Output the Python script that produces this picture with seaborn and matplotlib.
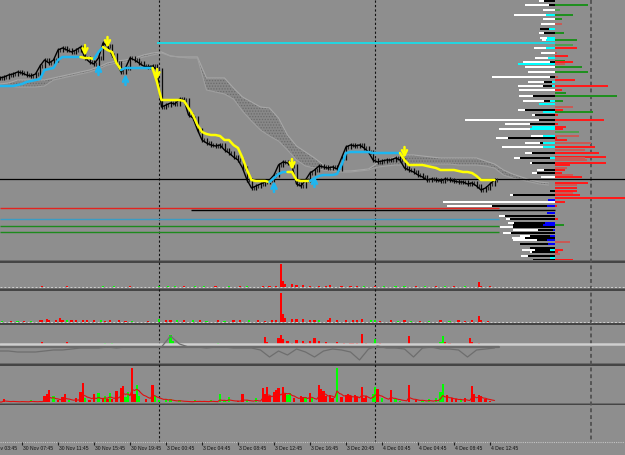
import numpy as np
import pandas as pd
import matplotlib
matplotlib.use("Agg")
import matplotlib.pyplot as plt
import seaborn as sns
from matplotlib import font_manager

sns.set_theme(style="white")
_names = {f.name for f in font_manager.fontManager.ttflist}
_narrow = "Liberation Sans Narrow" in _names
_fams = [f for f in ["Liberation Sans Narrow", "Liberation Sans"] if f in _names]
plt.rcParams["font.family"] = _fams + ["DejaVu Sans"]
plt.rcParams["hatch.linewidth"] = 0.6

# ------------------------------------------------------------------ data
time_labels = ["30 Nov 03:45", "30 Nov 07:45", "30 Nov 11:45", "30 Nov 15:45", "30 Nov 19:45",
               "3 Dec 00:45", "3 Dec 04:45", "3 Dec 08:45", "3 Dec 12:45", "3 Dec 16:45",
               "3 Dec 20:45", "4 Dec 00:45", "4 Dec 04:45", "4 Dec 08:45", "4 Dec 12:45"]
label_bar = [0, 16, 32, 48, 64, 80, 96, 112, 128, 144, 160, 176, 192, 208, 224]
day_break_bar = [77, 173, 269]

price_first_bar = 6
price_step = 2
# price (screen depth units, larger = lower price), every 2nd 15-min bar
close = [78, 77, 75, 74, 72, 73, 75, 76, 74, 66,
         60, 63, 60, 50, 48, 50, 52, 50, 47, 58,
         62, 64, 58, 43, 46, 55, 63, 72, 68, 58,
         60, 63, 66, 67, 66, 70, 107, 105, 103, 104,
         99, 100, 115, 118, 130, 140, 143, 145, 146, 145,
         150, 153, 157, 160, 168, 180, 188, 186, 184, 182,
         180, 175, 165, 162, 163, 166, 184, 186, 180, 173,
         170, 166, 167, 168, 167, 169, 158, 147, 145, 146,
         145, 148, 152, 160, 162, 161, 160, 160, 158, 160,
         168, 170, 172, 175, 177, 180, 179, 180, 181, 179,
         180, 181, 182, 182, 184, 183, 186, 190, 188, 184,
         180]
trend = [86, 86, 86, 86, 85, 84, 82, 81, 80, 79,
         70, 69, 68, 60, 57, 57, 57, 57, 57, 58,
         58, 59, 52, 47, 50, 52, 63, 70, 68, 68,
         68, 68, 68, 68, 68, 82, 100, 100, 100, 100,
         100, 101, 108, 115, 125, 132, 134, 135, 135, 136,
         140, 140, 145, 148, 158, 170, 180, 181, 181, 181,
         182, 178, 174, 172, 172, 172, 180, 181, 181, 181,
         178, 176, 175, 175, 175, 174, 165, 153, 152, 152,
         152, 152, 152, 153, 153, 153, 153, 153, 153, 153,
         160, 165, 165, 165, 165, 166, 167, 168, 170, 170,
         170, 170, 171, 172, 172, 173, 176, 180, 180, 180,
         180]
trend_dir = list("UUUUUUUUUUUUUUUUUUU" "DDD" "UU" "DDDD" "UUUUUUU"
                 "DDDDDDDDDDDDDDDDDDDDDDDDDD" "UUUU" "DDDDD"
                 "UUUUUUUUUUUUUUUUUUUU" "DDDDDDDDDDDDDDDDDDDDD")

cloud_first_bar = 6
cloud_step = 4
span_a = [84, 83, 80, 80, 80, 80, 78, 76, 74, 72,
          70, 67, 63, 61, 60, 58, 55, 53, 52, 56,
          57, 57, 57, 78, 78, 78, 88, 97, 102, 107,
          108, 118, 135, 146, 152, 158, 165, 169, 171, 171,
          170, 169, 163, 160, 157, 155, 155, 156, 157, 158,
          158, 158, 158, 158, 161, 164, 170, 174, 177, 180,
          182, 183]
span_b = [86, 86, 87, 87, 87, 86, 80, 78, 76, 74,
          72, 69, 65, 63, 62, 60, 57, 55, 53, 56,
          57, 58, 58, 90, 92, 94, 99, 111, 121, 130,
          136, 141, 150, 160, 166, 168, 170, 171, 172, 172,
          171, 170, 167, 166, 165, 165, 164, 164, 164, 164,
          164, 165, 165, 165, 166, 168, 175, 178, 180, 182,
          184, 185]

level_price = [43, 179, 208, 210, 219, 226, 232]
level_from_bar = [76, 0, 6, 91, 6, 6, 6]
level_to_bar = [253, 300, 228, 253, 228, 228, 228]
level_color = ["#22d6e2", "#000000", "#e3241f", "#000000", "#3a9cc4", "#1d8a1d", "#1d8a1d"]
level_width = [1.4, 0.9, 1.0, 1.0, 1.0, 1.0, 1.0]

# volume profile rows: price, white, black, accent parts (left), right part
prof_y = [1, 5, 10, 15, 19, 24, 29, 33, 38, 40, 45, 48, 53, 56, 58, 61, 62, 64, 67, 72,
          77, 80, 82, 86, 90, 93, 96, 101, 104, 107, 110, 112, 115, 120, 124, 127, 129, 132, 136, 138,
          140, 143, 147, 150, 153, 157, 158, 160, 163, 165, 168, 170, 173, 175, 177, 183, 185, 188, 191, 193,
          195, 198, 200, 202, 206, 213, 216, 219, 223, 225, 227, 230, 233, 236, 238, 240, 242, 244, 248, 250,
          252, 254, 256, 258, 260]
prof_w = [5, 24, 12, 32, 12, 14, 0, 5, 7, 4, 0, 12, 14, 0, 13, 0, 27, 0, 30, 27,
          58, 0, 16, 25, 36, 0, 14, 21, 0, 0, 7, 0, 3, 74, 25, 0, 31, 0, 12, 12,
          0, 15, 41, 0, 7, 0, 6, 0, 2, 0, 0, 7, 5, 0, 14, 0, 0, 0, 0, 0,
          3, 0, 0, 112, 45, 0, 6, 4, 6, 0, 13, 25, 8, 10, 13, 24, 0, 0, 0, 13,
          2, 0, 7, 0, 0]
prof_k = [11, 6, 0, 0, 0, 0, 9, 11, 0, 0, 0, 0, 0, 0, 0, 0, 5, 0, 0, 0,
          5, 0, 8, 9, 0, 0, 22, 6, 0, 0, 30, 0, 20, 16, 25, 0, 0, 0, 0, 47,
          0, 3, 0, 0, 23, 0, 30, 0, 23, 0, 0, 11, 18, 0, 0, 0, 0, 0, 5, 0,
          42, 0, 0, 0, 55, 0, 50, 45, 31, 30, 42, 15, 44, 20, 30, 10, 0, 28, 25, 15,
          23, 0, 27, 0, 22]
prof_a = [0, 0, 0, 9, 0, 0, 6, 0, 8, 9, 0, 9, 0, 0, 7, 0, 0, 37, 0, 0,
          0, 0, 3, 3, 0, 0, 0, 5, 16, 0, 0, 12, 0, 0, 0, 23, 25, 0, 12, 0,
          0, 12, 12, 0, 0, 0, 5, 0, 0, 0, 0, 0, 0, 0, 0, 0, 0, 0, 0, 0,
          0, 0, 7, 0, 8, 8, 0, 0, 10, 12, 0, 2, 0, 5, 0, 8, 0, 7, 0, 5,
          0, 0, 0, 5, 0]
prof_ac = list("cccccccccccccccccccc" "cccccccccccccccccccc" "cccccccccccccccccccc"
               "ccbcbbccbbcbcbcbcbcc" "ccccb")
prof_r = [0, 33, 5, 18, 7, 7, 0, 9, 0, 22, 18, 22, 2, 13, 0, 10, 18, 10, 27, 33,
          3, 20, 0, 53, 7, 11, 62, 8, 0, 18, 8, 38, 3, 49, 3, 11, 8, 24, 24, 2,
          12, 36, 40, 30, 44, 51, 30, 32, 51, 15, 12, 10, 7, 18, 27, 33, 22, 22, 22, 18,
          25, 70, 0, 10, 2, 0, 0, 3, 0, 9, 0, 0, 0, 0, 0, 0, 15, 0, 0, 8,
          3, 5, 0, 0, 18]
prof_rc = list("GGgGGrGGGGgRrRGGRrGG" "rRGRRGGGGrRGRRRRRgrR" "RrRrRRrrRRrRRrRRrRRr"
               "RRRRRRRRRGRRRRRRrRRR" "RrRRR")

# lower panel 1 (small histogram)
p1_bar = [25, 36, 52, 57, 64, 77, 81, 84, 88, 93, 97, 102, 108, 113, 116, 123, 126, 129, 131, 132,
          133, 136, 138, 141, 144, 148, 151, 153, 158, 162, 165, 168, 173, 177, 182, 186, 191, 195, 200, 204,
          208, 213, 219, 220, 224]
p1_val = [1, 1, 1.5, 1, 1, 1.5, 1, 1, 1, 1, 1, 1, 1, 1, 1, 1, 1, 1.5, 23, 6,
          3, 3, 2, 2, 1.5, 1, 1.5, 2, 1, 1, 1.5, 1, 1.5, 1, 1, 1, 1, 1, 1, 1,
          1, 1, 5, 1.5, 1]
p1_col = list("rrggrgggrggrgrgrrrrrrrrrrrrrrrrgrgggrgrgrgrrr")

# lower panel 2
p2_bar = [7, 11, 14, 17, 20, 24, 25, 27, 28, 31, 33, 34, 36, 38, 40, 43, 45, 48, 51, 53,
          55, 59, 62, 65, 72, 77, 80, 82, 85, 88, 92, 95, 98, 103, 106, 110, 113, 117, 121, 124,
          127, 129, 131, 132, 133, 136, 138, 141, 144, 146, 148, 152, 153, 156, 160, 163, 165, 167, 171, 173,
          175, 180, 183, 186, 189, 193, 197, 202, 206, 210, 213, 216, 219, 220, 223]
p2_val = [1, 1, 1, 1, 1, 1.5, 2, 3, 2, 2, 4, 2, 2, 2, 1.5, 2, 1.5, 2, 2, 1,
          2, 1.5, 1, 1, 1, 3, 1.5, 2, 1.5, 2, 1.5, 2, 1, 2, 1, 1.5, 2, 1.5, 1.5, 1,
          1.5, 2, 29, 8, 4, 3, 3, 3, 2, 2, 2, 2, 4, 2, 1.5, 2, 2, 3, 1.5, 2,
          1, 1.5, 1, 1.5, 1, 1, 1, 1.5, 1, 1.5, 1, 1.5, 6, 2, 1]
p2_col = list("grgrg" "rrrrr" "rrgrr" "rrrgr" "rrrgr" "grrgr" "grgrg" "rrgrr"
              "rrrrr" "rrrrr" "grrrr" "rrrgg" "rrgrg" "rgrgr" "rrrrr")

# lower panel 3 (oscillator + histogram)
p3_bar = [25, 36, 51, 53, 56, 59, 66, 77, 82, 83, 85, 95, 103, 108, 112, 114, 124, 125, 130, 131,
          132, 134, 136, 138, 141, 142, 144, 146, 148, 151, 153, 156, 159, 162, 163, 165, 167, 169, 172, 173,
          175, 182, 188, 196, 202, 203, 204, 206, 208, 215, 216, 219, 220]
p3_val = [3, 3, 1.5, 2, 2, 1, 1, 1, 10, 4, 1, 1.5, 2, 1.5, 1, 1, 8, 3, 7, 10,
          6, 4, 2, 5, 4, 2, 4, 7, 4, 3, 1.5, 3, 2, 2, 2, 2, 11, 2, 2, 6,
          2, 1, 9, 1, 3, 9, 3, 2, 1.5, 7, 3, 2, 1.5]
p3_col = list("rrggg" "rgggg" "rggrg" "rrrrr" "rrrrr" "rrrrr" "grrrr" "rrrgg" "rgrgg" "grrrr" "rrr")
osc_first_bar = 6
osc_step = 4
osc = [-6, -6, -7, -7, -7, -6, -5, -5, -4, -3,
       -3, -3, -2, -3, -2, -2, -2, -2, -2, 9,
       1, -2, -2, -3, -2, -2, -3, -3, -3, -5,
       -12, -6, -10, -4, -7, -12, -6, -4, -5, -7,
       -15, -4, -1, -3, -3, -4, -12, -3, -2, -4,
       -4, -5, -12, -5, -4, -3]

# lower panel 4 (volume histogram)
p4_bar = [8, 12, 16, 20, 24, 26, 27, 28, 30, 32, 34, 35, 37, 40, 42, 43, 44, 46, 48, 50,
          52, 53, 54, 55, 56, 58, 60, 61, 62, 63, 65, 66, 67, 68, 71, 74, 75, 77, 80, 82,
          86, 93, 95, 97, 100, 104, 106, 108, 112, 114, 116, 120, 123, 124, 125, 126, 128, 129, 130, 132,
          133, 134, 135, 137, 140, 141, 142, 144, 145, 148, 149, 150, 151, 153, 154, 156, 158, 160, 161, 162,
          164, 165, 167, 168, 169, 172, 173, 174, 176, 180, 182, 184, 188, 191, 194, 197, 200, 202, 203, 205,
          207, 209, 211, 213, 216, 217, 219, 220, 222, 224]
p4_val = [3, 1, 1, 2, 1, 6, 8, 12, 6, 2, 5, 8, 2, 4, 10, 19, 4, 2, 8, 9,
          3, 6, 3, 9, 3, 11, 14, 16, 5, 10, 34, 8, 17, 6, 3, 17, 6, 2, 3, 3,
          2, 2, 1, 1, 2, 8, 2, 5, 1, 8, 2, 4, 14, 8, 15, 6, 10, 12, 14, 15,
          8, 7, 9, 4, 6, 5, 5, 9, 4, 17, 13, 11, 6, 7, 4, 34, 5, 7, 8, 6,
          7, 5, 15, 4, 6, 8, 15, 13, 4, 12, 3, 1, 17, 2, 2, 3, 4, 10, 18, 7,
          4, 3, 3, 4, 16, 8, 7, 6, 3, 1]
p4_col = list("rrggr" "rrrgr" "rrgrr" "rgrrg" "rgrgr" "rrrgg" "rrggr" "rgggg" "gggrg" "gggrr" "ggrrr"
              "rrrrr" "rggrr" "rgrgr" "rrrrr" "grrrr" "rrrrr" "ggrgr" "ggrrg" "ggggr" "rrgrr" "rrrrr")

# ------------------------------------------------------------------ layout
W, H = 625, 455
BG = "#8e8e8e"
BAR_PX = 2.25
ORIGIN_PX = -14.0
XL = (0 - ORIGIN_PX) / BAR_PX
XR = (W - ORIGIN_PX) / BAR_PX
RED, LIME = "#ff0000", "#00ff00"
cmap2 = {"r": RED, "g": LIME}
LABEL_SIZE = 4.3 if _narrow else 3.6

fig = plt.figure(figsize=(W / 100, H / 100), dpi=100, facecolor=BG)

bg = fig.add_axes([0, 0, 1, 1], zorder=0)
bg.set_xlim(XL, XR)
bg.set_ylim(H, 0)
bg.set_axis_off()


def add_axes(y0, y1, z=2):
    ax = fig.add_axes([0, 1 - y1 / H, 1, (y1 - y0) / H], zorder=z)
    ax.set_axis_off()
    ax.set_xlim(XL, XR)
    return ax


def panel(y0, y1, base):
    ax = add_axes(y0, y1)
    ax.set_ylim(-(y1 - base), base - y0)
    return ax


# separators
for (a, b) in [(259.8, 262.5), (288.3, 290.7), (322.5, 324.5), (363.3, 365.5), (402.8, 405.0)]:
    bg.axhspan(a, a + 0.9, color="#6a6a6a", lw=0)
    bg.axhspan(a + 0.9, b, color="#454545", lw=0)

# day separators
for i, b in enumerate(day_break_bar):
    if i < 2:
        bg.plot([b, b], [0, 441], color="#111111", lw=0.8, ls=(0, (2, 2)))
    else:
        bg.plot([b, b], [0, 441], color="#555555", lw=1.4, ls=(0, (2, 1.5)))

# time axis
bg.plot([XL, XR], [441.5, 441.5], color="#c4c4c4", lw=0.8, ls=(0, (1, 1)))
bg.vlines(label_bar, 441.5, 444.5, color="#202020", lw=0.8)
for b, t in zip(label_bar, time_labels):
    bg.text(b + 0.5, 448.5, t, fontsize=LABEL_SIZE, ha="left", va="center", color="#101010")

# ------------------------------------------------------------------ main chart
ax = add_axes(0, 259.8)
ax.set_ylim(259.8, 0)

pbar = price_first_bar + price_step * np.arange(len(close))
cbar = cloud_first_bar + cloud_step * np.arange(len(span_a))

ax.fill_between(cbar, span_a, span_b, facecolor="#888888", edgecolor="#6b6b6b",
                hatch="......", lw=0, zorder=1)
sns.lineplot(x=cbar, y=span_a, ax=ax, color="#a8a8a8", lw=0.8, zorder=1.5)
sns.lineplot(x=cbar, y=span_b, ax=ax, color="#a0a0a0", lw=0.8, zorder=1.5)

for yv, s, e, c, lw in zip(level_price, level_from_bar, level_to_bar, level_color, level_width):
    ax.hlines(yv, s, e, colors=c, lw=lw, zorder=2)

opens = [close[0]] + close[:-1]
wick = 2
lo = [min(o, c) - wick for o, c in zip(opens, close)]
hi = [max(o, c) + wick for o, c in zip(opens, close)]
ax.vlines(pbar, lo, hi, color="#0a0a0a", lw=0.9, zorder=3)
ax.vlines(pbar + 1, [v - 2 for v in close], [v + 2 for v in close], color="#2a2a2a", lw=0.8, zorder=3)
sns.lineplot(x=pbar, y=close, ax=ax, color="#000000", lw=1.0, zorder=3)

# trend line segments
runs = []
start = 0
for i in range(1, len(trend_dir) + 1):
    if i == len(trend_dir) or trend_dir[i] != trend_dir[start]:
        runs.append((start, i - 1, trend_dir[start]))
        start = i
for s, e, d in runs:
    s0 = max(s - 1, 0)
    sns.lineplot(x=pbar[s0:e + 1], y=trend[s0:e + 1], ax=ax,
                 color="#1eb6f0" if d == "U" else "#ffff00", lw=1.8, zorder=4)

# signal arrows
for i in range(1, len(trend_dir)):
    if trend_dir[i] != trend_dir[i - 1]:
        if trend_dir[i] == "U":
            tip = close[i] + 6
            ax.annotate("", xy=(pbar[i], tip), xytext=(pbar[i], tip + 11),
                        arrowprops=dict(arrowstyle="->", color="#1eb6f0", lw=1.8,
                                        mutation_scale=9, shrinkA=0, shrinkB=0), zorder=5)
        else:
            tip = trend[i] - 2
            ax.annotate("", xy=(pbar[i], tip), xytext=(pbar[i], tip - 11),
                        arrowprops=dict(arrowstyle="->", color="#ffff00", lw=1.8,
                                        mutation_scale=9, shrinkA=0, shrinkB=0), zorder=5)
ax.set_xlim(XL, XR)
ax.set_ylim(259.8, 0)

# volume profile
axp = fig.add_axes([0, 1 - 259.8 / H, 1, 259.8 / H], zorder=3)
axp.set_axis_off()
py = np.array(prof_y)
pa = np.array(prof_a)
pk = np.array(prof_k)
pw = np.array(prof_w)
acc_col = ["#00ffff" if c == "c" else "#0000ff" for c in prof_ac]
rcmap = {"R": "#ff1a1a", "r": "#c85a55", "G": "#1f8f1f", "g": "#4e9e4e"}
axp.barh(py, -pa, left=0, height=1.2, color=acc_col, lw=0)
axp.barh(py, -pk, left=-pa, height=1.2, color="#000000", lw=0)
axp.barh(py, -pw, left=-(pa + pk), height=1.2, color="#ffffff", lw=0)
axp.barh(py, prof_r, left=0, height=1.2, color=[rcmap[c] for c in prof_rc], lw=0)
axp.set_xlim(-555, W - 555)
axp.set_ylim(259.8, 0)

# ------------------------------------------------------------------ lower panels
a1 = panel(262.5, 288.3, 287.0)
a1.plot([XL, XR], [0, 0], color="#d0d0d0", lw=0.7, ls=(0, (2, 2)))
a1.bar(p1_bar, p1_val, width=0.9, color=[cmap2[c] for c in p1_col], lw=0)

a2 = panel(290.7, 322.5, 321.6)
a2.plot([XL, XR], [0, 0], color="#d0d0d0", lw=0.7, ls=(0, (2, 2)))
a2.bar(p2_bar, p2_val, width=0.9, color=[cmap2[c] for c in p2_col], lw=0)

a3 = panel(324.5, 363.3, 345.0)
a3.plot([XL, XR], [1, 1], color="#cfcfcf", lw=1.8)
a3.plot([price_first_bar, 228], [-2, -2], color="#6b6b6b", lw=1.6)
a3.bar(p3_bar, p3_val, width=0.9, color=[cmap2[c] for c in p3_col], lw=0)
obar = osc_first_bar + osc_step * np.arange(len(osc))
sns.lineplot(x=obar, y=osc, ax=a3, color="#6e6e6e", lw=0.9)
a3.set_xlim(XL, XR)
a3.set_ylim(-(363.3 - 345.0), 345.0 - 324.5)

a4 = panel(365.5, 402.8, 402.0)
a4.bar(p4_bar, p4_val, width=0.9, color=[cmap2[c] for c in p4_col], lw=0)
dense = pd.Series(0.0, index=np.arange(price_first_bar, 227))
dense.loc[p4_bar] = p4_val
ma = dense.ewm(span=8).mean()
sns.lineplot(x=ma.index.values, y=ma.values, ax=a4, color="#e01010", lw=0.8)
a4.set_xlim(XL, XR)
a4.set_ylim(-(402.8 - 402.0), 402.0 - 365.5)

fig.savefig("out.png", dpi=100, facecolor=BG)
